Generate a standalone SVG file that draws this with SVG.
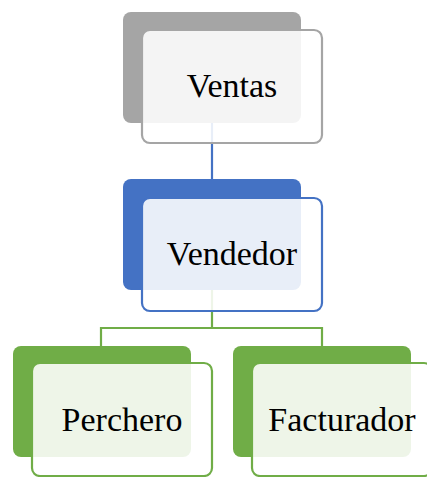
<svg xmlns="http://www.w3.org/2000/svg" width="427" height="477" viewBox="0 0 427 477">
<style>
.back{stroke:none}
.front{fill:#ffffff;fill-opacity:0.88;stroke-width:2.2}
.lbl{font-family:"Liberation Serif","Times New Roman",serif;font-size:34px;fill:#000;text-anchor:middle}
.conn{fill:none;stroke-width:2.2}
</style>
<rect width="427" height="477" fill="#ffffff"/>
<g id="back-shapes">
<rect class="back" x="123" y="12" width="178" height="111" rx="8" fill="#a5a5a5"/>
<rect class="back" x="123" y="179" width="178" height="111" rx="8" fill="#4472c4"/>
<rect class="back" x="13" y="346" width="178" height="111" rx="8" fill="#70ad47"/>
<rect class="back" x="233" y="346" width="178" height="111" rx="8" fill="#70ad47"/>
</g>
<g id="connectors">
<path class="conn" stroke="#4472c4" d="M212,123 V179"/>
<path class="conn" stroke="#70ad47" d="M212,290 V328 M101,328 H322 M101,327 V346 M322,327 V346"/>
</g>
<g id="node-ventas">
<rect class="front" x="142" y="30" width="180" height="113" rx="8" stroke="#a5a5a5"/>
<text class="lbl" x="232" y="97">Ventas</text>
</g>
<g id="node-vendedor">
<rect class="front" x="142" y="198" width="180" height="113" rx="8" stroke="#4472c4"/>
<text class="lbl" x="232" y="265">Vendedor</text>
</g>
<g id="node-perchero">
<rect class="front" x="32" y="363" width="180" height="113" rx="8" stroke="#70ad47"/>
<text class="lbl" x="122" y="431">Perchero</text>
</g>
<g id="node-facturador">
<rect class="front" x="252" y="363" width="180" height="113" rx="8" stroke="#70ad47"/>
<text class="lbl" x="342" y="431">Facturador</text>
</g>
</svg>
